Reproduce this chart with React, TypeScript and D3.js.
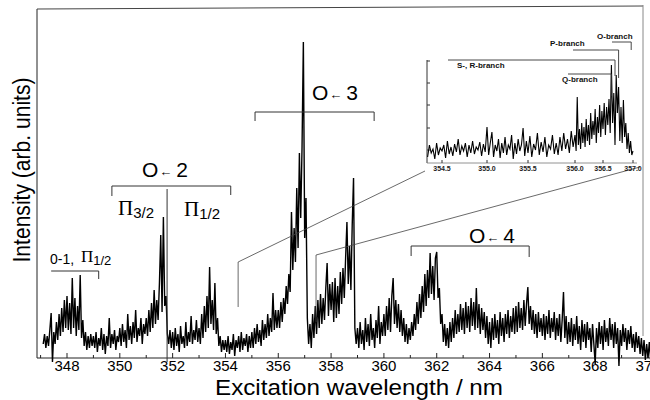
import React from 'react';
import * as d3 from 'd3';

const width = 650;
const height = 400;

// main spectrum, one reading every 0.05 nm from 347.10 nm (arb. units)
const wlStart = 347.1;
const wlStep = 0.05;
const intensity = [
  14, 24, 10, 22, 12, 28, 45, -4, 26, 14, 36, 18, 44, 22, 50, 26, 58, 30, // 347.1
  62, 28, 55, 24, 80, 30, 60, 22, 52, 28, 83, 20, 38, 12, 26, 8, 22, 10, 24, 12, // 348
  22, 10, 26, 6, 20, 12, 30, 8, 24, 4, 22, 12, 40, 10, 24, 14, 28, 8, 22, 16, // 349
  30, 12, 34, 16, 28, 10, 44, 18, 32, 14, 36, 20, 48, 16, 30, 22, 40, 14, 34, 24, // 350
  40, 22, 48, 26, 55, 30, 68, 34, 58, 38, 75, 123, 46, 141, 52, 62, 24, 14, 28, 10, // 351
  26, 8, 30, 12, 24, 6, 32, 14, 22, 10, 36, 12, 26, 16, 42, 14, 28, 18, 38, 16, // 352
  30, 14, 44, 20, 52, 26, 62, 30, 91, 34, 58, 28, 75, 24, 40, 12, 22, 6, 18, 8, // 353
  18, 6, 22, 4, 16, 8, 24, 2, 18, 10, 22, 6, 26, 8, 20, 12, 24, 6, 22, 10, // 354
  26, 10, 30, 14, 34, 16, 28, 12, 38, 18, 34, 20, 44, 22, 40, 26, 65, 28, 48, 30, // 355
  48, 30, 56, 36, 60, 44, 72, 54, 84, 66, 146, 88, 130, 96, 170, 110, 205, 140, 211, 316, // 356
  120, 160, 40, 14, 34, 10, 44, 20, 52, 24, 58, 30, 64, 34, 60, 38, 70, 95, 42, 74, // 357
  48, 76, 36, 80, 40, 72, 44, 86, 54, 90, 60, 100, 136, 74, 112, 68, 133, 180, 30, 14, // 358
  30, 10, 36, 14, 28, 8, 40, 16, 34, 12, 44, 18, 30, 10, 38, 20, 52, 14, 36, 22, // 359
  44, 22, 52, 28, 60, 26, 62, 80, 34, 58, 30, 54, 26, 48, 22, 40, 16, 34, 14, 30, // 360
  18, 36, 22, 44, 28, 56, 34, 64, 40, 72, 46, 84, 52, 88, 60, 105, 64, 92, 58, 100, // 361
  106, 60, 70, 34, 44, 16, 34, 12, 30, 10, 36, 16, 40, 20, 48, 24, 44, 26, 54, 28, // 362
  50, 24, 56, 30, 52, 26, 60, 32, 56, 28, 70, 30, 54, 24, 50, 28, 46, 20, 42, 14, // 363
  36, 10, 40, 18, 44, 20, 38, 14, 46, 22, 40, 16, 44, 24, 48, 20, 42, 26, 50, 24, // 364
  52, 26, 56, 30, 50, 28, 58, 32, 54, 71, 34, 52, 28, 48, 24, 44, 20, 46, 26, 40, // 365
  22, 44, 18, 42, 24, 48, 20, 40, 26, 46, 18, 40, 22, 44, 16, 38, 66, 20, 42, 14, // 366
  36, 16, 40, 12, 34, 18, 42, 14, 32, 8, 38, 16, 34, 10, 36, 18, 30, 6, 34, 14, // 367
  -6, 30, 10, 36, 14, 32, 8, 38, 16, 30, 12, 40, 18, 34, 10, 36, 14, 30, -8, 28, // 368
  12, 34, 16, 30, 8, 28, 14, 32, 10, 24, 6, 26, 10, 22, 4, 20, 2, 18, -2, 14, // 369
  0, 16, -2, // 370
];

// inset, one reading every 0.02 nm from 354.34 nm
const insetStart = 354.34;
const insetStep = 0.02;
const insetIntensity = [
  6, 18, 10, 14, 4, 20, 8, 15, 12, 18, 5, 22, 9, 16, 7, 19, 11, 24, 8, 17,
  12, 20, 6, 18, 10, 22, 9, 16, 13, 21, 7, 19, 11, // 354.34 - 354.98
  36, 8, 20, 31, 6, 18, 12, 24, 5, 20, 10, 26, 8, 18, 14, 28, 4, 20, 9, 24,
  12, 18, 35, 7, 22, 10, 27, 6, 19, 13, 30, 8, 21, 11, 26, 6, 18, 14, 28, 9, // 355.00 - 355.78
  20, 8, 26, 12, 30, 14, 24, 10, 32, 16, // 355.8
  28, 12, 66, 18, 34, 14, 40, 20, 36, 16, // 356.0
  44, 22, 38, 18, 50, 24, 42, 28, 54, 20, // 356.2
  46, 30, 58, 26, 52, 34, 60, 28, 56, 38, // 356.4
  64, 30, 98, 40, 70, 18, 88, 50, 76, 22, // 356.6
  56, 20, 63, 26, 40, 14, 30, 10, 22, 8, // 356.8
  12,
];

const xTicks = d3.range(348, 371, 2);
const xMinorTicks = d3.range(347, 371, 2);
const insetXTicks = [354.5, 355.0, 355.5, 356.0, 356.5, 357.0];
const insetYTicks = [13, 35, 58, 80, 102];

const sans = 'Liberation Sans, Arial, sans-serif';
const serif = 'Liberation Serif, Times New Roman, serif';

function Band(props: { x: number; y: number; label: string }) {
  const { x, y, label } = props;
  return (
    <text x={x} y={y} fontFamily={sans} fontSize={21} fill="#000">
      <tspan>O</tspan>
      <tspan fontSize={13} dx={1} dy={-1}>←</tspan>
      <tspan dx={4} dy={1}>{label}</tspan>
    </text>
  );
}

function Pi(props: { x: number; y: number; sub: string; size: number; subSize: number }) {
  const { x, y, sub, size, subSize } = props;
  return (
    <text x={x} y={y} fill="#000">
      <tspan fontFamily={serif} fontSize={size}>Π</tspan>
      <tspan fontFamily={sans} fontSize={subSize} dy={3}>{sub}</tspan>
    </text>
  );
}

export default function App() {
  const x = d3.scaleLinear().domain([348, 370]).range([67, 648]);
  const y = d3.scaleLinear().domain([0, 349]).range([358, 9]);
  const x0 = 37, x1 = 650, yBottom = y(0), yTop = 8;

  const pts: [number, number][] = intensity.map((v, i) => [wlStart + i * wlStep, v]);
  const line = d3.line<[number, number]>().x(d => x(d[0])).y(d => y(d[1]));

  // inset axis is not quite linear in the original, follow its labelled ticks
  const ix = d3.scaleLinear()
    .domain([354.5, 355.0, 355.5, 356.0, 356.5, 357.0])
    .range([442, 487, 528, 575, 603, 633]);
  const iy = d3.scaleLinear().domain([0, 103]).range([163, 60]);
  const ipts: [number, number][] = insetIntensity.map((v, i) => [insetStart + i * insetStep, v]);
  const iline = d3.line<[number, number]>().x(d => ix(d[0])).y(d => iy(d[1]));
  const ix0 = 427, ix1 = 637;

  return (
    <svg width={width} height={height} style={{ position: 'absolute', left: 0, top: 0, background: '#fff' }}>
      <rect width={width} height={height} fill="#fff" />

      {/* frame */}
      <line x1={x0} x2={x0} y1={yTop + 1} y2={yBottom} stroke="#222" />
      <line x1={x0} x2={x1} y1={yBottom} y2={yBottom} stroke="#222" />
      <line x1={x0} x2={643} y1={yTop + 1} y2={yTop - 2} stroke="#444" />
      <line x1={643} x2={643} y1={5} y2={336} stroke="#888" />

      {xTicks.map(t => (
        <g key={t}>
          <line x1={x(t)} x2={x(t)} y1={yBottom} y2={yBottom - 5} stroke="#222" />
          <text x={x(t)} y={371} textAnchor="middle" fontFamily={sans} fontSize={15} fill="#000">{t}</text>
        </g>
      ))}
      {xMinorTicks.map(t => (
        <line key={t} x1={x(t)} x2={x(t)} y1={yBottom} y2={yBottom - 3} stroke="#222" />
      ))}

      <text x={359} y={395} textAnchor="middle" fontFamily={sans} fontSize={22} fill="#000"
        textLength={288} lengthAdjust="spacingAndGlyphs">Excitation wavelength / nm</text>
      <text transform="translate(30,170) rotate(-90)" textAnchor="middle" fontFamily={sans} fontSize={23}
        fill="#000" textLength={185} lengthAdjust="spacingAndGlyphs">Intensity (arb. units)</text>

      {/* spectrum */}
      <path d={line(pts) || ''} fill="none" stroke="#000" strokeWidth={1.4} strokeLinejoin="miter" />

      {/* band annotations */}
      <text x={50} y={264} fontFamily={sans} fontSize={14} fill="#000">0-1,</text>
      <Pi x={81} y={262} sub="1/2" size={17} subSize={13} />
      <polyline points={`${x(347.4)},${271} ${x(349.2)},${271} ${x(349.2)},${279}`} fill="none" stroke="#333" />

      <Band x={142} y={177} label="2" />
      <polyline points={`${x(349.7)},196 ${x(349.7)},186 ${x(354.2)},186 ${x(354.2)},195`} fill="none" stroke="#333" />
      <Pi x={118} y={215} sub="3/2" size={21} subSize={15} />
      <Pi x={184} y={216} sub="1/2" size={21} subSize={15} />
      <line x1={x(351.79)} x2={x(351.79)} y1={189} y2={362} stroke="#333" />

      <Band x={312} y={100} label="3" />
      <polyline points={`${x(355.12)},121 ${x(355.12)},112 ${x(359.63)},112 ${x(359.63)},121`} fill="none" stroke="#333" />

      <Band x={469} y={243} label="4" />
      <polyline points={`${x(361.03)},256 ${x(361.03)},246 ${x(365.5)},246 ${x(365.5)},257`} fill="none" stroke="#333" />

      {/* connectors to the inset */}
      <polyline points={`${x(354.48)},${y(51)} ${x(354.48)},${y(96)} 425,171`} fill="none" stroke="#444" strokeWidth={0.8} />
      <polyline points={`${x(357.43)},${y(36)} ${x(357.43)},${y(103)} 640,167`} fill="none" stroke="#444" strokeWidth={0.8} />

      {/* inset */}
      <line x1={ix0} x2={ix0} y1={60} y2={163} stroke="#333" />
      <line x1={ix0} x2={ix1} y1={163} y2={163} stroke="#777" strokeWidth={0.8} />
      {insetYTicks.map(t => (
        <line key={t} x1={ix0} x2={ix0 + 3} y1={iy(t)} y2={iy(t)} stroke="#333" />
      ))}
      {insetXTicks.map(t => (
        <g key={t}>
          <line x1={ix(t)} x2={ix(t)} y1={163} y2={160} stroke="#333" />
          <text x={ix(t)} y={171} textAnchor="middle" fontFamily={sans} fontSize={7} fontWeight="bold" fill="#222">{t.toFixed(1)}</text>
        </g>
      ))}
      <path d={iline(ipts) || ''} fill="none" stroke="#000" strokeWidth={1.1} />

      <g fontFamily={sans} fontSize={8} fontWeight="bold" fill="#111">
        <text x={457} y={68}>S-, R-branch</text>
        <text x={550} y={46}>P-branch</text>
        <text x={597} y={39}>O-branch</text>
        <text x={562} y={82}>Q-branch</text>
      </g>
      <g fill="none" stroke="#333" strokeWidth={0.9}>
        <polyline points={`448,60 ${ix(356.7)},60 ${ix(356.7)},76`} />
        <polyline points={`573,50 ${ix(356.76)},50 ${ix(356.76)},78`} />
        <polyline points={`612,42 ${ix(356.97)},42 ${ix(356.97)},50`} />
        <polyline points={`568,74 ${ix(356.64)},74 ${ix(356.64)},96`} />
      </g>
    </svg>
  );
}
